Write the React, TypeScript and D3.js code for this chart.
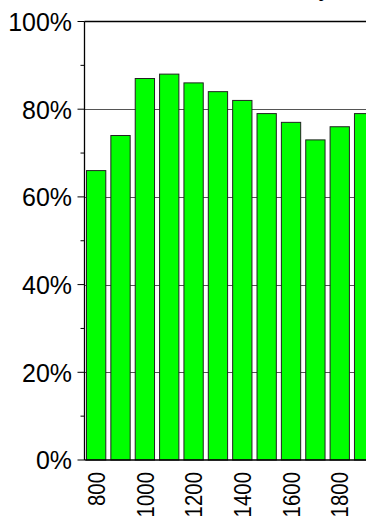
import React from "react";
import * as d3 from "d3";

const categories = ["800", "900", "1000", "1100", "1200", "1300", "1400", "1500", "1600", "1700", "1800", "1900"];
const values = [0.66, 0.74, 0.87, 0.88, 0.86, 0.84, 0.82, 0.79, 0.77, 0.73, 0.76, 0.79];
const yMajorTicks = [0, 0.2, 0.4, 0.6, 0.8, 1.0];
const yMinorTicks = [0.1, 0.3, 0.5, 0.7, 0.9];
const xLabelEvery = 2;
const titleText = "Accuracy";

const W = 366;
const H = 517;
const FONT = "'Liberation Sans', Arial, Helvetica, sans-serif";

export default function App() {
  const y = d3.scaleLinear().domain([0, 1]).range([460, 21.5]);
  // R barplot units: bar i spans [0.2 + 1.2 i, 1.2 + 1.2 i]
  const x = d3.scaleLinear().domain([0.2, 1.2]).range([86, 106.3]);
  const axisX = 84.5;
  const pctFmt = d3.format(".0%");

  return (
    <svg width={W} height={H} style={{ position: "absolute", left: 0, top: 0, background: "#fff" }}>
      {/* partially visible title */}
      <text x={331} y={-4.5} textAnchor="end" fontFamily={FONT} fontSize={25} fill="#000">
        {titleText}
      </text>
      {/* gridlines */}
      {yMajorTicks.slice(1, 5).map((t) => (
        <line key={"g" + t} x1={axisX} x2={W} y1={Math.round(y(t)) + 0.5} y2={Math.round(y(t)) + 0.5} stroke="#555" strokeWidth={1} />
      ))}
      {/* bars */}
      {values.map((v, i) => {
        const x0 = x(0.2 + 1.2 * i);
        const x1 = x(1.2 + 1.2 * i);
        return (
          <rect
            key={categories[i]}
            x={x0 + 0.5}
            y={y(v)}
            width={x1 - x0 - 1}
            height={y(0) - y(v)}
            fill="#00ff00"
            stroke="#222"
            strokeWidth={1}
          />
        );
      })}
      {/* top frame line */}
      <line x1={axisX} x2={W} y1={y(1)} y2={y(1)} stroke="#000" strokeWidth={1.3} />
      {/* bottom axis line */}
      <line x1={axisX} x2={W} y1={y(0)} y2={y(0)} stroke="#000" strokeWidth={1.3} />
      {/* y axis */}
      <line x1={axisX} x2={axisX} y1={y(1)} y2={y(0)} stroke="#000" strokeWidth={1.3} />
      {yMajorTicks.map((t) => (
        <g key={"t" + t}>
          <line x1={axisX - 7} x2={axisX} y1={y(t)} y2={y(t)} stroke="#000" strokeWidth={1} />
          <text
            transform={`translate(72,${y(t)}) scale(0.96,1)`}
            dy="0.36em"
            textAnchor="end"
            fontFamily={FONT}
            fontSize={26}
            fill="#000"
          >
            {pctFmt(t)}
          </text>
        </g>
      ))}
      {yMinorTicks.map((t) => (
        <line key={"m" + t} x1={axisX - 4} x2={axisX} y1={y(t)} y2={y(t)} stroke="#000" strokeWidth={1} />
      ))}
      {/* x labels */}
      {categories.map((c, i) => {
        if (i % xLabelEvery !== 0) return null;
        const cx = x(0.7 + 1.2 * i);
        return (
          <text
            key={"x" + c}
            transform={`translate(${cx},472) rotate(-90) scale(0.85,1)`}
            dy="0.36em"
            textAnchor="end"
            fontFamily={FONT}
            fontSize={24}
            fill="#000"
          >
            {c}
          </text>
        );
      })}
    </svg>
  );
}
